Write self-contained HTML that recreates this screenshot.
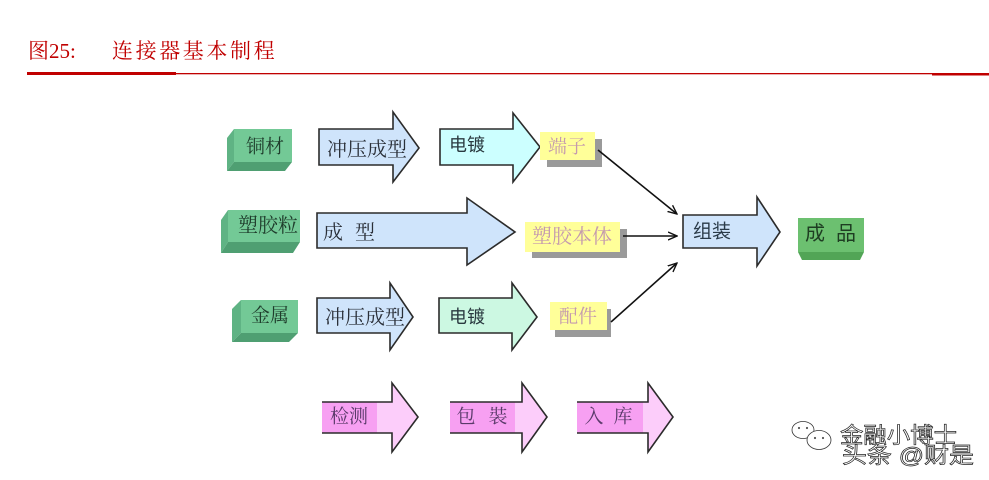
<!DOCTYPE html>
<html>
<head>
<meta charset="utf-8">
<style>
html,body{margin:0;padding:0;background:#fff;}
body{width:989px;height:480px;overflow:hidden;}
svg{display:block;}
.serif{font-family:"Liberation Serif","Noto Serif CJK SC",serif;}
.sans{font-family:"Liberation Sans","Noto Sans CJK SC",sans-serif;}
</style>
</head>
<body>
<svg width="989" height="480" viewBox="0 0 989 480" xmlns="http://www.w3.org/2000/svg">
  <defs>
    <marker id="ah" markerWidth="10" markerHeight="10" refX="9" refY="5" orient="auto" markerUnits="userSpaceOnUse">
      <path d="M0,1 L9,5 L0,9" fill="none" stroke="#111" stroke-width="1.4"/>
    </marker>
  </defs>

  <!-- Title -->
  <text x="28" y="58" class="serif" font-size="21" fill="#c00000">图25:</text>
  <text x="112" y="58" class="serif" font-size="21" fill="#c00000" letter-spacing="2.6">连接器基本制程</text>
  <rect x="27" y="72" width="149" height="3" fill="#c00000"/>
  <rect x="176" y="73" width="813" height="1.3" fill="#c00000"/>
  <rect x="932" y="73" width="57" height="2.5" fill="#c00000"/>

  <!-- Green 3D boxes -->
  <!-- 铜材 -->
  <polygon points="234,129 227,138 227,171 234,162" fill="#5fb384"/>
  <polygon points="234,162 227,171 285,171 292,162" fill="#4f9f72"/>
  <rect x="234" y="129" width="58" height="33" fill="#73c996"/>
  <text x="265" y="147" class="serif" font-size="19" fill="#1f3d2c" text-anchor="middle" dominant-baseline="central">铜材</text>
  <!-- 塑胶粒 -->
  <polygon points="228,210 221,220 221,253 228,242" fill="#5fb384"/>
  <polygon points="228,242 221,253 293,253 300,242" fill="#4f9f72"/>
  <rect x="228" y="210" width="72" height="32" fill="#73c996"/>
  <text x="268" y="226" class="serif" font-size="20" fill="#1f3d2c" text-anchor="middle" dominant-baseline="central">塑胶粒</text>
  <!-- 金属 -->
  <polygon points="241,300 232,309 232,342 241,333" fill="#5fb384"/>
  <polygon points="241,333 232,342 289,342 298,333" fill="#4f9f72"/>
  <rect x="241" y="300" width="57" height="33" fill="#73c996"/>
  <text x="270" y="316" class="serif" font-size="19" fill="#1f3d2c" text-anchor="middle" dominant-baseline="central">金属</text>

  <!-- Big arrows -->
  <g stroke="#2b2b2b" stroke-width="1.6" stroke-linejoin="miter">
    <polygon points="319,129 393,129 393,112 419,148 393,182 393,165 319,165" fill="#cfe4fb"/>
    <polygon points="440,129 513,129 513,113 540,147 513,182 513,165 440,165" fill="#ccffff"/>
    <polygon points="317,213 467,213 467,198 515,232 467,265 467,248 317,248" fill="#cfe4fb"/>
    <polygon points="317,298 390,298 390,283 413,317 390,350 390,333 317,333" fill="#cfe4fb"/>
    <polygon points="439,298 512,298 512,283 537,317 512,350 512,333 439,333" fill="#ccf8e2"/>
    <polygon points="683,215 757,215 757,197 780,232 757,266 757,248 683,248" fill="#cfe4fb"/>
  </g>
  <text x="367" y="150" class="serif" font-size="20" fill="#2a2f38" text-anchor="middle" dominant-baseline="central">冲压成型</text>
  <text x="467" y="145" class="sans" font-size="18" fill="#2a3a40" text-anchor="middle" dominant-baseline="central">电镀</text>
  <text x="323" y="233" class="serif" font-size="20" fill="#2a2f38" dominant-baseline="central">成</text>
  <text x="355" y="233" class="serif" font-size="20" fill="#2a2f38" dominant-baseline="central">型</text>
  <text x="365" y="318" class="serif" font-size="20" fill="#2a2f38" text-anchor="middle" dominant-baseline="central">冲压成型</text>
  <text x="467" y="317" class="sans" font-size="18" fill="#2a3a40" text-anchor="middle" dominant-baseline="central">电镀</text>
  <text x="712" y="232" class="sans" font-size="19" fill="#2a3a48" text-anchor="middle" dominant-baseline="central">组装</text>

  <!-- Yellow boxes with shadows -->
  <rect x="547" y="139" width="55" height="28" fill="#9a9a9a"/>
  <rect x="540" y="132" width="55" height="28" fill="#ffff99"/>
  <text x="567" y="147" class="serif" font-size="19" fill="#c49aae" text-anchor="middle" dominant-baseline="central">端子</text>

  <rect x="532" y="229" width="95" height="29" fill="#9a9a9a"/>
  <rect x="525" y="222" width="95" height="30" fill="#ffff99"/>
  <text x="572" y="237" class="serif" font-size="20" fill="#c49aae" text-anchor="middle" dominant-baseline="central">塑胶本体</text>

  <rect x="555" y="309" width="56" height="28" fill="#9a9a9a"/>
  <rect x="550" y="302" width="57" height="28" fill="#ffff99"/>
  <text x="578" y="317" class="serif" font-size="19" fill="#c49aae" text-anchor="middle" dominant-baseline="central">配件</text>

  <!-- Connectors -->
  <g stroke="#111" stroke-width="1.6" fill="none">
    <line x1="598" y1="150" x2="677" y2="214" marker-end="url(#ah)"/>
    <line x1="623" y1="236" x2="677" y2="236" marker-end="url(#ah)"/>
    <line x1="611" y1="322" x2="677" y2="263" marker-end="url(#ah)"/>
  </g>

  <!-- 成品 -->
  <polygon points="798,252 802,260 860,260 864,252" fill="#52a556"/>
  <rect x="798" y="218" width="66" height="34" fill="#6cc070"/>
  <text x="815" y="234" class="sans" font-size="20" fill="#1e3d22" text-anchor="middle" dominant-baseline="central">成</text>
  <text x="846" y="234" class="sans" font-size="20" fill="#1e3d22" text-anchor="middle" dominant-baseline="central">品</text>

  <!-- Pink arrows -->
  <g>
    <polygon points="322,402 392,402 392,383 418,417 392,452 392,433 322,433" fill="#fccdfa"/>
    <rect x="322" y="402" width="55" height="31" fill="#f7a0f2"/>
    <path d="M322,402 L392,402 L392,383 L418,417 L392,452 L392,433 L322,433" fill="none" stroke="#2b2b2b" stroke-width="1.6"/>
    <text x="349" y="417" class="serif" font-size="19" fill="#5a3a6a" text-anchor="middle" dominant-baseline="central">检测</text>

    <polygon points="450,402 522,402 522,383 547,417 522,452 522,433 450,433" fill="#fccdfa"/>
    <rect x="450" y="402" width="65" height="31" fill="#f7a0f2"/>
    <path d="M450,402 L522,402 L522,383 L547,417 L522,452 L522,433 L450,433" fill="none" stroke="#2b2b2b" stroke-width="1.6"/>
    <text x="466" y="417" class="serif" font-size="19" fill="#5a3a6a" text-anchor="middle" dominant-baseline="central">包</text>
    <text x="498" y="417" class="serif" font-size="19" fill="#5a3a6a" text-anchor="middle" dominant-baseline="central">裝</text>

    <polygon points="577,402 648,402 648,383 673,417 648,452 648,433 577,433" fill="#fccdfa"/>
    <rect x="577" y="402" width="66" height="31" fill="#f7a0f2"/>
    <path d="M577,402 L648,402 L648,383 L673,417 L648,452 L648,433 L577,433" fill="none" stroke="#2b2b2b" stroke-width="1.6"/>
    <text x="594" y="417" class="serif" font-size="19" fill="#5a3a6a" text-anchor="middle" dominant-baseline="central">入</text>
    <text x="623" y="417" class="serif" font-size="19" fill="#5a3a6a" text-anchor="middle" dominant-baseline="central">库</text>
  </g>

  <!-- Watermark -->
  <g fill="#fff" stroke="#333" stroke-width="0.8">
    <ellipse cx="803" cy="430" rx="11" ry="8.5"/>
    <ellipse cx="819" cy="440" rx="12" ry="9.5"/>
  </g>
  <g fill="#555">
    <circle cx="799" cy="428" r="1.1"/><circle cx="807" cy="428" r="1.1"/>
    <circle cx="815" cy="438" r="1.1"/><circle cx="823" cy="438" r="1.1"/>
  </g>
  <text x="840" y="443" class="sans" font-size="22" fill="#fff" stroke="#222" stroke-width="0.7" textLength="117" lengthAdjust="spacingAndGlyphs">金融小博士</text>
  <text x="842" y="463" class="sans" font-size="22" fill="#fff" stroke="#222" stroke-width="0.7" textLength="132" lengthAdjust="spacingAndGlyphs">头条 @财是</text>
</svg>
</body>
</html>
